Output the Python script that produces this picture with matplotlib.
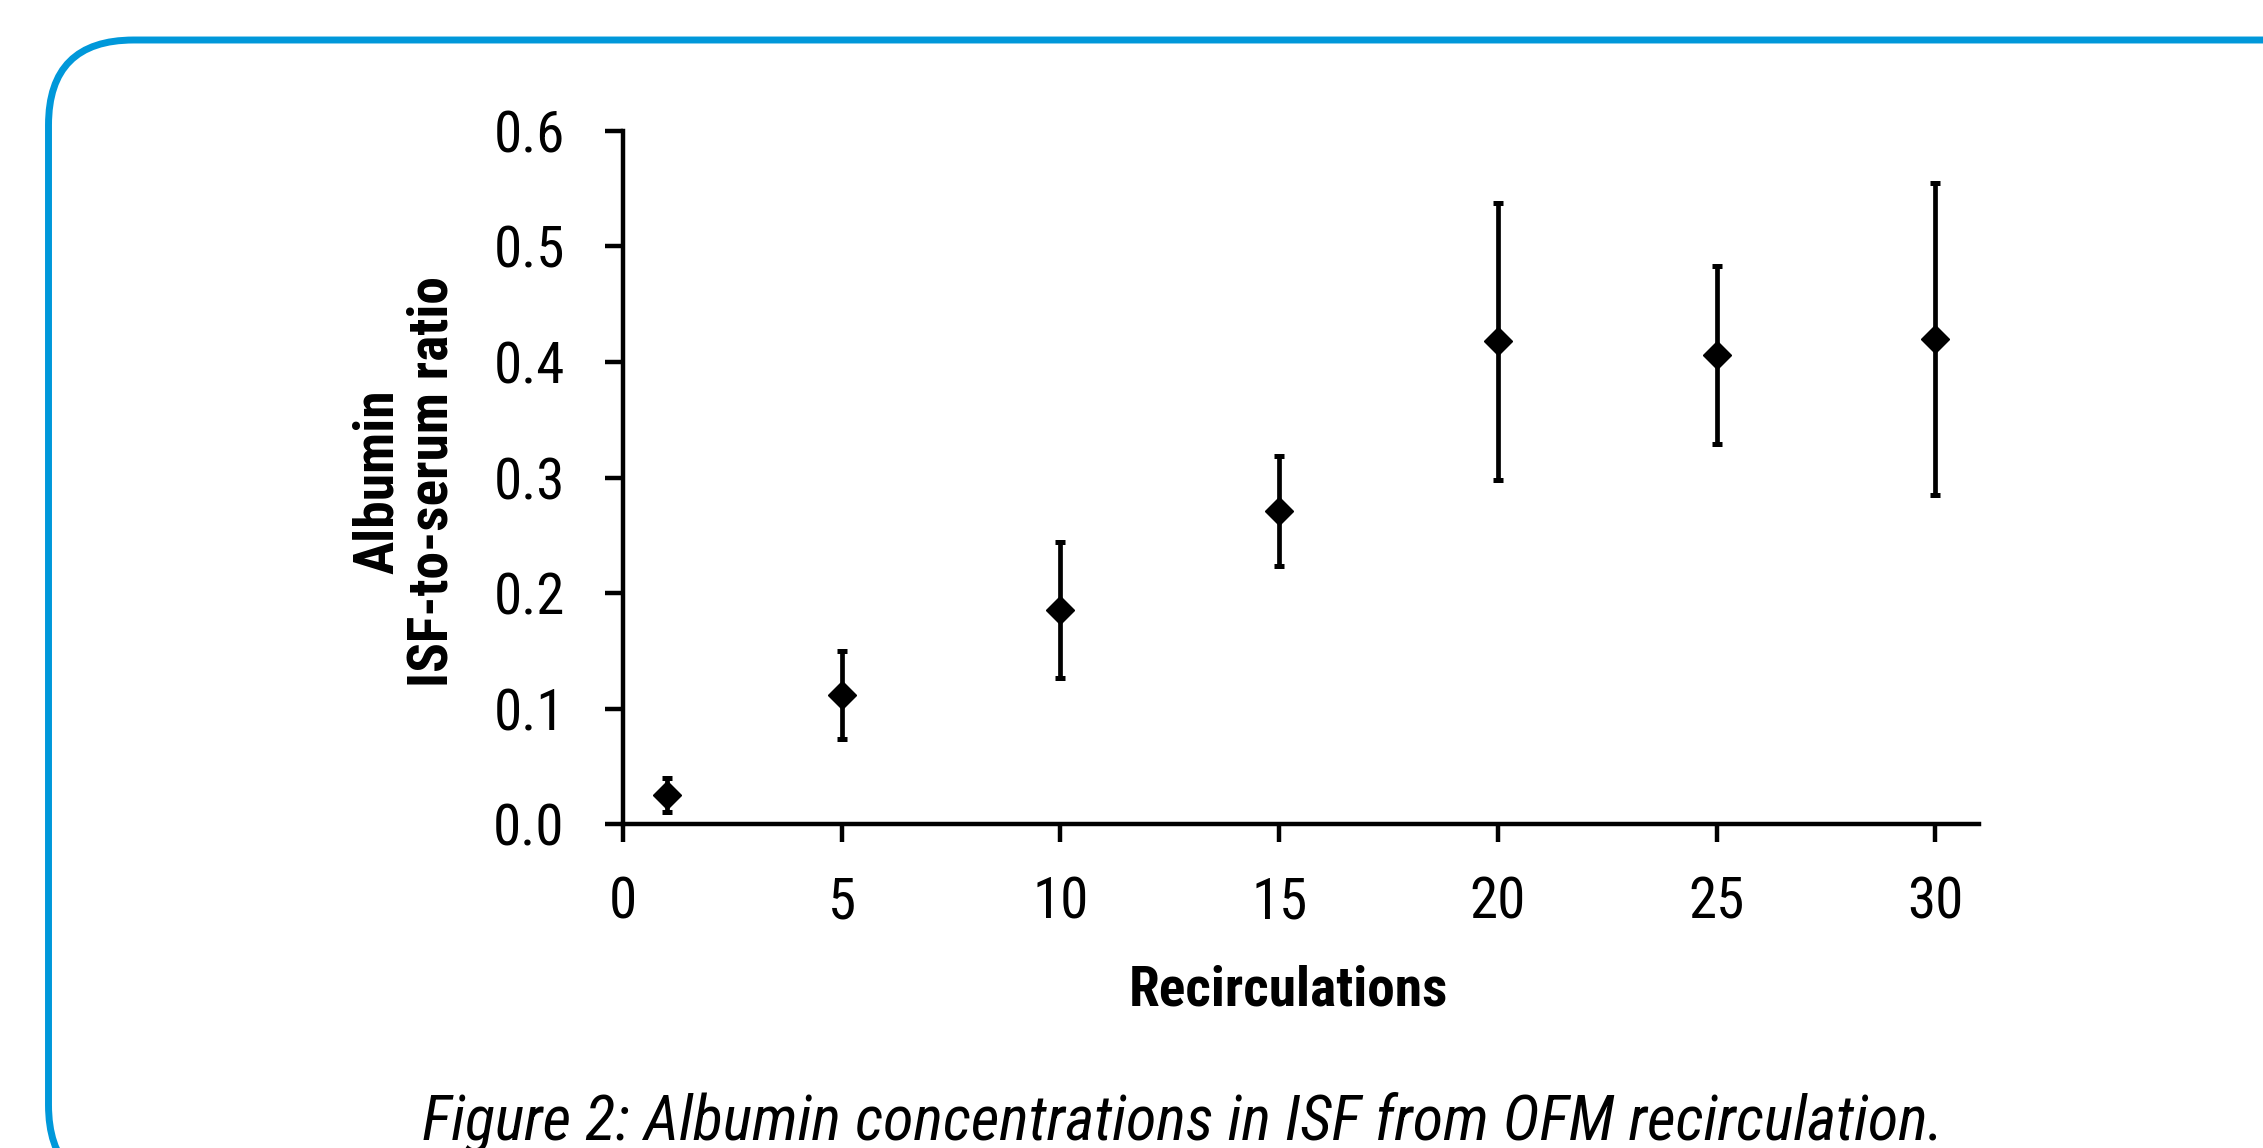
import matplotlib
matplotlib.use("Agg")
import matplotlib.pyplot as plt
import matplotlib.patches as mpatches
from matplotlib.transforms import IdentityTransform

plt.rcParams['font.family'] = ['Roboto Condensed', 'DejaVu Sans']

recirculations = [1, 5, 10, 15, 20, 25, 30]
albumin_ratio = [0.025, 0.112, 0.185, 0.271, 0.418, 0.406, 0.420]
ratio_err = [0.015, 0.038, 0.059, 0.048, 0.120, 0.077, 0.135]
y_ticks = [0.0, 0.1, 0.2, 0.3, 0.4, 0.5, 0.6]
x_ticks = [0, 5, 10, 15, 20, 25, 30]

fig = plt.figure(figsize=(22.63, 11.48), dpi=100)
ax = fig.add_axes([0.2753, 0.2822, 0.5992, 0.6037])

ax.errorbar(recirculations, albumin_ratio, yerr=ratio_err, fmt='D', color='black',
            markersize=14, elinewidth=3.4, capsize=3.4, capthick=3.6, clip_on=False)

ax.set_xlim(0, 31)
ax.set_ylim(0, 0.6)
ax.set_xticks(x_ticks)
ax.set_yticks(y_ticks)
ax.set_yticklabels([f"{v:.1f}" for v in y_ticks])
for side in ['top', 'right']:
    ax.spines[side].set_visible(False)
for side in ['left', 'bottom']:
    ax.spines[side].set_linewidth(3.2)
    ax.spines[side].set_capstyle('projecting')
ax.tick_params(axis='both', direction='out', length=13, width=3.2, labelsize=41)
ax.tick_params(axis='y', pad=29)
ax.tick_params(axis='x', pad=24)

ax.set_xlabel("Recirculations", fontsize=40, fontweight='bold')
ax.xaxis.set_label_coords((1288 - 623) / 1356, -(990 - 824) / 693, transform=ax.transAxes)
ax.xaxis.label.set_va('center')
ax.set_ylabel("Albumin\nISF-to-serum ratio", fontsize=40, fontweight='bold',
              multialignment='center', linespacing=1.05)
ax.yaxis.set_label_coords(-(623 - 405) / 1356, (824 - 482) / 693, transform=ax.transAxes)
ax.yaxis.label.set_va('center')

fig.text(1183 / 2263, 8 / 1148, "Figure 2: Albumin concentrations in ISF from OFM recirculation.",
         fontsize=45, style='italic', ha='center', va='baseline')

border = mpatches.FancyBboxPatch((48.5, -42), 2400, 1150,
                                 boxstyle="round,pad=0,rounding_size=85",
                                 facecolor='none', edgecolor='#0098DA', linewidth=5,
                                 transform=IdentityTransform())
fig.add_artist(border)

fig.savefig("out.png", dpi=100)
